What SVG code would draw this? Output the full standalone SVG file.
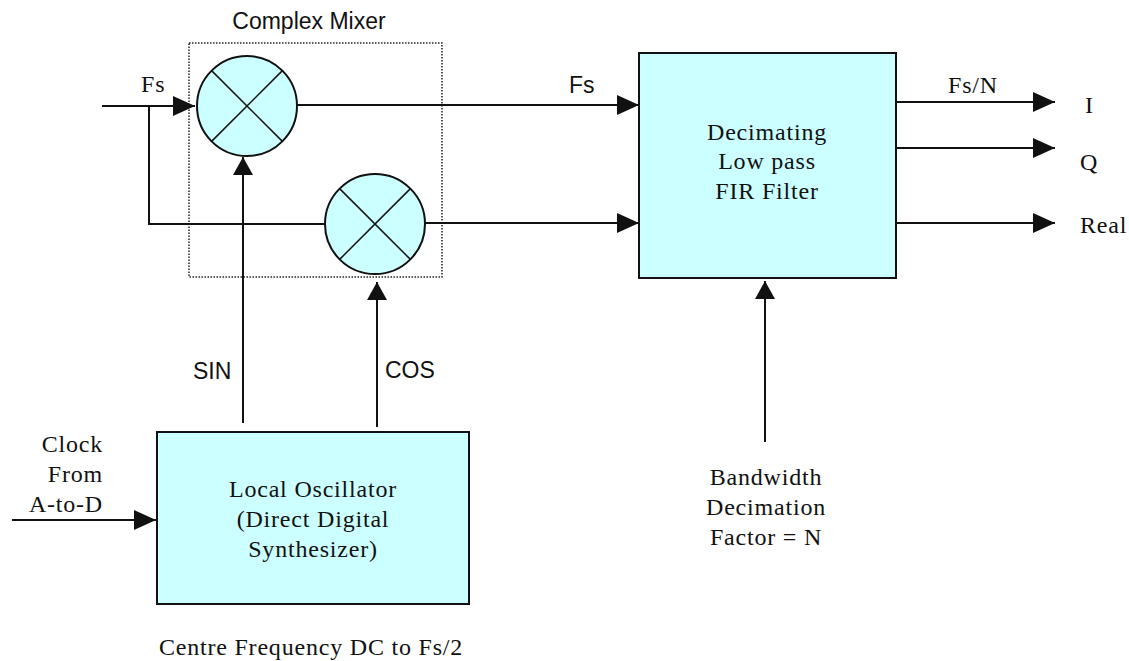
<svg xmlns="http://www.w3.org/2000/svg" width="1129" height="661" viewBox="0 0 1129 661">
<style>
.bg{fill:#ffffff}
.blk{fill:#ccffff;stroke:#111;stroke-width:2}
.xl{stroke:#111;stroke-width:1.5;fill:none}
.wire{stroke:#111;stroke-width:2;fill:none}
.arr{stroke:#111;stroke-width:2;fill:none;marker-end:url(#ah)}
.arrv{stroke:#111;stroke-width:2;fill:none;marker-end:url(#ahv)}
.dot{fill:none;stroke:#222;stroke-width:1.5;stroke-dasharray:1.5 1.5}
.sans{font-family:"Liberation Sans",Arial,sans-serif;font-size:23px;fill:#111}
.serif{font-family:"Liberation Serif","Times New Roman",serif;font-size:24px;fill:#111;letter-spacing:0.8px}
.mid{text-anchor:middle}
.end{text-anchor:end}
</style>
<defs>
<marker id="ah" markerUnits="userSpaceOnUse" markerWidth="22" markerHeight="20" refX="22" refY="10" orient="auto" viewBox="0 0 22 20">
<path d="M0,0 L22,10 L0,20 Z" fill="#111"/>
</marker>
<marker id="ahv" markerUnits="userSpaceOnUse" markerWidth="18" markerHeight="20" refX="18" refY="10" orient="auto" viewBox="0 0 18 20">
<path d="M0,0 L18,10 L0,20 Z" fill="#111"/>
</marker>
</defs>
<rect class="bg" x="0" y="0" width="1129" height="661"/>

<g id="complex-mixer">
<rect class="dot" x="189" y="43" width="253" height="234"/>
<text class="sans mid" x="309" y="29">Complex Mixer</text>
</g>

<g id="mixer-sin">
<circle class="blk" cx="247" cy="106" r="50"/>
<line class="xl" x1="211.6" y1="70.6" x2="282.4" y2="141.4"/>
<line class="xl" x1="282.4" y1="70.6" x2="211.6" y2="141.4"/>
</g>

<g id="mixer-cos">
<circle class="blk" cx="375" cy="224" r="50"/>
<line class="xl" x1="339.6" y1="188.6" x2="410.4" y2="259.4"/>
<line class="xl" x1="410.4" y1="188.6" x2="339.6" y2="259.4"/>
</g>

<g id="fir-filter">
<rect class="blk" x="639" y="53" width="257" height="225"/>
<text class="serif mid" x="767" y="140">Decimating</text>
<text class="serif mid" x="767" y="169">Low pass</text>
<text class="serif mid" x="767" y="199">FIR Filter</text>
</g>

<g id="local-oscillator">
<rect class="blk" x="157" y="432" width="312" height="172"/>
<text class="serif mid" x="313" y="497">Local Oscillator</text>
<text class="serif mid" x="313" y="527">(Direct Digital</text>
<text class="serif mid" x="313" y="557">Synthesizer)</text>
</g>

<g id="connectors">
<line class="arr" x1="102" y1="106" x2="195" y2="106"/>
<polyline class="wire" points="149,106 149,224 325,224"/>
<line class="arr" x1="297" y1="105" x2="639" y2="105"/>
<line class="arr" x1="425" y1="223" x2="639" y2="223"/>
<line class="arrv" x1="243" y1="423" x2="243" y2="157"/>
<line class="arrv" x1="377" y1="427" x2="377" y2="282"/>
<line class="arr" x1="12" y1="520" x2="156" y2="520"/>
<line class="arrv" x1="765" y1="442" x2="765" y2="281"/>
<line class="arr" x1="896" y1="102" x2="1055" y2="102"/>
<line class="arr" x1="896" y1="148" x2="1055" y2="148"/>
<line class="arr" x1="896" y1="223" x2="1055" y2="223"/>
</g>

<g id="labels">
<text class="serif" x="141" y="92">Fs</text>
<text class="sans" x="569" y="93">Fs</text>
<text class="serif mid" x="973" y="93">Fs/N</text>
<text class="serif" x="1085" y="113">I</text>
<text class="serif" x="1080" y="170">Q</text>
<text class="serif" x="1080" y="233">Real</text>
<text class="sans" x="193" y="379">SIN</text>
<text class="sans" x="385" y="378">COS</text>
<text class="serif end" x="103" y="452">Clock</text>
<text class="serif end" x="103" y="482">From</text>
<text class="serif end" x="103" y="512">A-to-D</text>
<text class="serif mid" x="311" y="655">Centre Frequency DC to Fs/2</text>
<text class="serif mid" x="766" y="485">Bandwidth</text>
<text class="serif mid" x="766" y="515">Decimation</text>
<text class="serif mid" x="766" y="545">Factor = N</text>
</g>
</svg>
